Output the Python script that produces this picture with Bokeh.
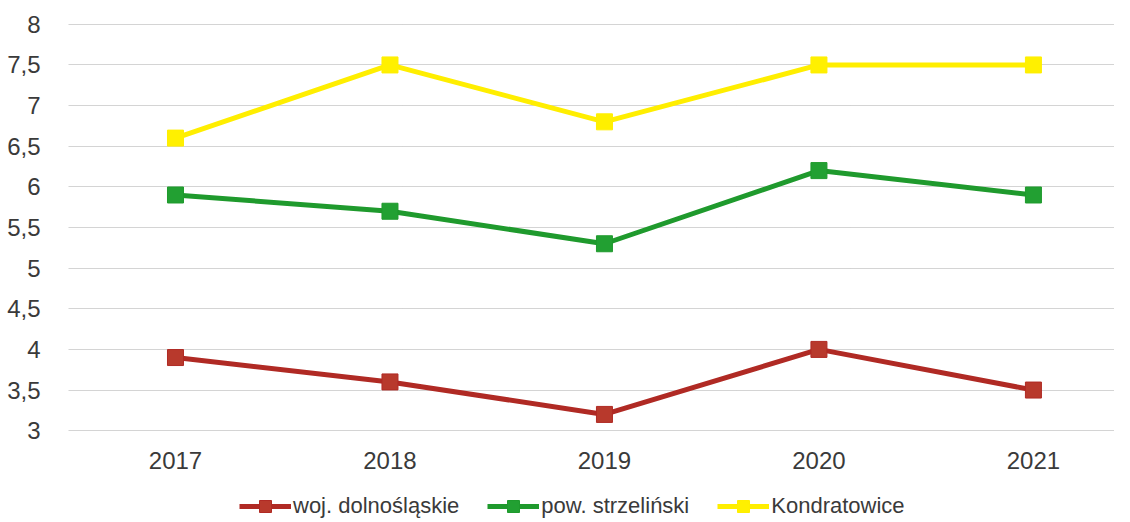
from bokeh.plotting import figure
from bokeh.layouts import column
from bokeh.models import Range1d, FixedTicker, Legend, LegendItem
from bokeh.embed import file_html
from bokeh.resources import INLINE

years = ["2017", "2018", "2019", "2020", "2021"]
woj = [3.9, 3.6, 3.2, 4.0, 3.5]
pow_ = [5.9, 5.7, 5.3, 6.2, 5.9]
kondr = [6.6, 7.5, 6.8, 7.5, 7.5]
y_ticks = [3, 3.5, 4, 4.5, 5, 5.5, 6, 6.5, 7, 7.5, 8]
y_labels = ["3", "3,5", "4", "4,5", "5", "5,5", "6", "6,5", "7", "7,5", "8"]

series = [
    ("woj. dolnośląskie", woj, "#b02a24", "#b8392c"),
    ("pow. strzeliński", pow_, "#1f9a2d", "#22a032"),
    ("Kondratowice", kondr, "#ffee00", "#fff000"),
]

xs = list(range(len(years)))
font = "Liberation Sans"

p = figure(width=1114, height=483, output_backend="svg", toolbar_location=None,
           x_range=Range1d(-0.4988, 4.378), y_range=Range1d(2.99, 8.01),
           min_border_left=68, min_border_right=0, min_border_top=23, min_border_bottom=52)
p.outline_line_color = None
p.background_fill_color = "white"

p.xaxis.ticker = FixedTicker(ticks=xs)
p.xaxis.major_label_overrides = {i: y for i, y in enumerate(years)}
p.yaxis.ticker = FixedTicker(ticks=y_ticks)
p.yaxis.major_label_overrides = {t: l for t, l in zip(y_ticks, y_labels)}
for ax in (p.xaxis[0], p.yaxis[0]):
    ax.axis_line_color = None
    ax.major_tick_line_color = None
    ax.minor_tick_line_color = None
    ax.major_label_text_font = font
    ax.major_label_text_font_size = "24px"
    ax.major_label_text_color = "#3a3a3a"
p.xaxis.major_label_standoff = 14
p.yaxis.major_label_standoff = 22

p.xgrid.grid_line_color = None
p.ygrid.ticker = FixedTicker(ticks=y_ticks)
p.ygrid.grid_line_color = "#a8a8a8"
p.ygrid.grid_line_dash = "1 1"
p.ygrid.grid_line_width = 1

for name, vals, lc, mc in series:
    p.line(xs, vals, line_color=lc, line_width=5)
    p.scatter(xs, vals, marker="square", size=16, fill_color=mc, line_color=lc, line_width=1)

# legend strip: same series drawn out of view, only the legend is visible
lg = figure(width=1114, height=38, output_backend="svg", toolbar_location=None,
            x_range=Range1d(100, 101), y_range=Range1d(100, 101),
            x_axis_location=None, y_axis_location=None,
            min_border_left=0, min_border_right=0, min_border_top=0, min_border_bottom=0)
lg.outline_line_color = None
lg.grid.visible = False
items = []
for name, vals, lc, mc in series:
    r1 = lg.line(xs, vals, line_color=lc, line_width=5)
    r2 = lg.scatter(xs, vals, marker="square", size=16, fill_color=mc, line_color=lc, line_width=1)
    items.append(LegendItem(label=name, renderers=[r1, r2]))

legend = Legend(items=items, orientation="horizontal", location=(171, 0),
                label_text_font=font, label_text_font_size="22px", label_text_color="#3a3a3a",
                glyph_width=52, glyph_height=30, spacing=28, label_standoff=2,
                border_line_color=None, background_fill_alpha=0, padding=0, margin=0)
lg.add_layout(legend, "center")

open("out.html", "w").write(file_html(column(p, lg), INLINE))
